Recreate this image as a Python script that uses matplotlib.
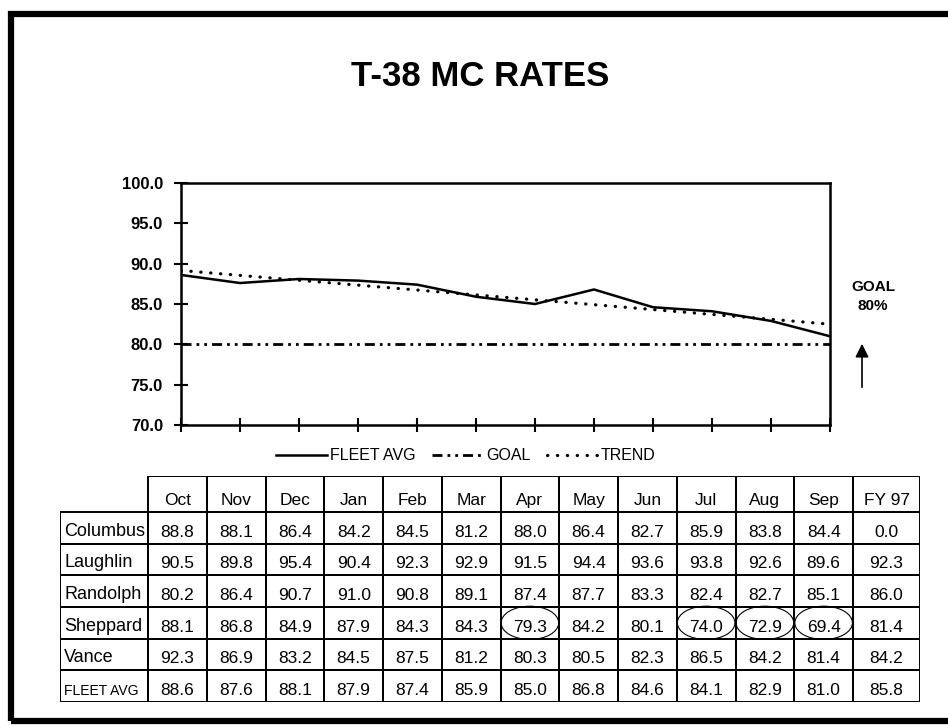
import numpy as np
import matplotlib
matplotlib.use("Agg")
import matplotlib.pyplot as plt
from matplotlib.lines import Line2D
from matplotlib.patches import Rectangle, Ellipse, FancyArrowPatch

plt.rcParams['font.family'] = ['Liberation Sans', 'DejaVu Sans']

# ---------------- data ----------------
months = ["Oct", "Nov", "Dec", "Jan", "Feb", "Mar", "Apr", "May", "Jun", "Jul", "Aug", "Sep"]
table_cols = months + ["FY 97"]
bases = ["Columbus", "Laughlin", "Randolph", "Sheppard", "Vance", "FLEET AVG"]

columbus = [88.8, 88.1, 86.4, 84.2, 84.5, 81.2, 88.0, 86.4, 82.7, 85.9, 83.8, 84.4, 0.0]
laughlin = [90.5, 89.8, 95.4, 90.4, 92.3, 92.9, 91.5, 94.4, 93.6, 93.8, 92.6, 89.6, 92.3]
randolph = [80.2, 86.4, 90.7, 91.0, 90.8, 89.1, 87.4, 87.7, 83.3, 82.4, 82.7, 85.1, 86.0]
sheppard = [88.1, 86.8, 84.9, 87.9, 84.3, 84.3, 79.3, 84.2, 80.1, 74.0, 72.9, 69.4, 81.4]
vance = [92.3, 86.9, 83.2, 84.5, 87.5, 81.2, 80.3, 80.5, 82.3, 86.5, 84.2, 81.4, 84.2]
fleet_avg = [88.6, 87.6, 88.1, 87.9, 87.4, 85.9, 85.0, 86.8, 84.6, 84.1, 82.9, 81.0, 85.8]

goal = [80.0] * 12
circled = ["Apr", "Jul", "Aug", "Sep"]  # Sheppard cells circled
yticks = [70.0, 75.0, 80.0, 85.0, 90.0, 95.0, 100.0]

rows = [columbus, laughlin, randolph, sheppard, vance, fleet_avg]

# ---------------- layout ----------------
W, H = 948, 726
fig = plt.figure(figsize=(W / 100, H / 100), dpi=100)


def rect(x0, y0, x1, y1):
    return [x0 / W, 1 - y1 / H, (x1 - x0) / W, (y1 - y0) / H]


# outer frame
fig.add_artist(Rectangle((11 / W, 1 - 721 / H), (990 - 11) / W, (721 - 14) / H,
                         transform=fig.transFigure, fill=False, lw=4.5,
                         ec='black', clip_on=False))

fig.text(480 / W, 1 - 76 / H, "T-38 MC RATES", ha='center', va='center',
         fontsize=25, fontweight='bold')

# ---------------- chart ----------------
ax = fig.add_axes(rect(181, 183, 830, 425))
x = np.arange(len(months))
fleet_line = fleet_avg[:12]
coef = np.polyfit(x, fleet_line, 1)
trend = np.polyval(coef, x)

goal_dash = (0, (3.6, 1.8, 1, 1.8, 1, 1.8))
trend_dot = (0, (0.1, 3.0))

ax.plot(x, fleet_line, color='black', lw=1.8)
ax.plot(x, goal, color='black', lw=2, linestyle=goal_dash)
ax.plot(x, trend, color='black', lw=2.3, linestyle=trend_dot,
        dash_capstyle='round')

ax.set_xlim(0, 11)
ax.set_ylim(70, 100)
ax.set_xticks(x)
ax.set_xticklabels([])
ax.set_yticks(yticks)
ax.set_yticklabels([f"{v:.1f}" for v in yticks], fontweight='bold', fontsize=12)
ax.tick_params(axis='both', direction='inout', length=10, width=1.5, pad=8)
for s in ax.spines.values():
    s.set_linewidth(1.8)

# GOAL note and arrow
fig.text(873 / W, 1 - 287 / H, "GOAL", ha='center', va='center',
         fontsize=11, fontweight='bold')
fig.text(873 / W, 1 - 306 / H, "80%", ha='center', va='center',
         fontsize=11, fontweight='bold')
fig.add_artist(FancyArrowPatch((862 / W, 1 - 390 / H), (862 / W, 1 - 341 / H),
                               transform=fig.transFigure, arrowstyle='-|>',
                               mutation_scale=20, lw=1.2, color='black'))

# legend
handles = [Line2D([], [], color='black', lw=1.8),
           Line2D([], [], color='black', lw=2, linestyle=goal_dash),
           Line2D([], [], color='black', lw=2.3, linestyle=trend_dot,
                  dash_capstyle='round')]
fig.legend(handles, ["FLEET AVG", "GOAL", "TREND"], loc='center',
           bbox_to_anchor=(466 / W, 1 - 456 / H), ncol=3, frameon=False,
           fontsize=11.5, handlelength=3.2, handletextpad=0.2,
           columnspacing=1.0)

# ---------------- table ----------------
t_x0, t_y0, t_x1, t_y1 = 60, 476, 920, 702
tax = fig.add_axes(rect(t_x0, t_y0, t_x1, t_y1))
tax.set_xlim(0, t_x1 - t_x0)
tax.set_ylim(t_y1 - t_y0, 0)
tax.axis('off')

col_w = [88] + [58.75] * 12 + [67]
col_edges = np.concatenate([[0], np.cumsum(col_w)])
head_h = 36
row_h = (t_y1 - t_y0 - head_h) / len(bases)
lw = 1.4

# header
for j, name in enumerate(table_cols):
    cx0 = col_edges[j + 1]
    tax.add_patch(Rectangle((cx0, 0), col_w[j + 1], head_h, fill=False,
                            ec='black', lw=lw))
    tax.text(cx0 + col_w[j + 1] / 2, head_h - 4, name, ha='center',
             va='bottom', fontsize=12.5)

for i, (base, vals) in enumerate(zip(bases, rows)):
    ry0 = head_h + i * row_h
    tax.add_patch(Rectangle((0, ry0), col_w[0], row_h, fill=False,
                            ec='black', lw=lw))
    tax.text(4, ry0 + row_h - 4, base, ha='left', va='bottom',
             fontsize=10 if base == "FLEET AVG" else 13)
    for j, v in enumerate(vals):
        cx0 = col_edges[j + 1]
        tax.add_patch(Rectangle((cx0, ry0), col_w[j + 1], row_h, fill=False,
                                ec='black', lw=lw))
        tax.text(cx0 + col_w[j + 1] / 2, ry0 + row_h - 4, f"{v:.1f}",
                 ha='center', va='bottom', fontsize=12.5)
        if base == "Sheppard" and j < 12 and months[j] in circled:
            tax.add_patch(Ellipse((cx0 + col_w[j + 1] / 2, ry0 + row_h / 2),
                                  col_w[j + 1] * 0.98, row_h * 1.05,
                                  fill=False, ec='black', lw=0.8))

fig.savefig("out.png", dpi=100)
